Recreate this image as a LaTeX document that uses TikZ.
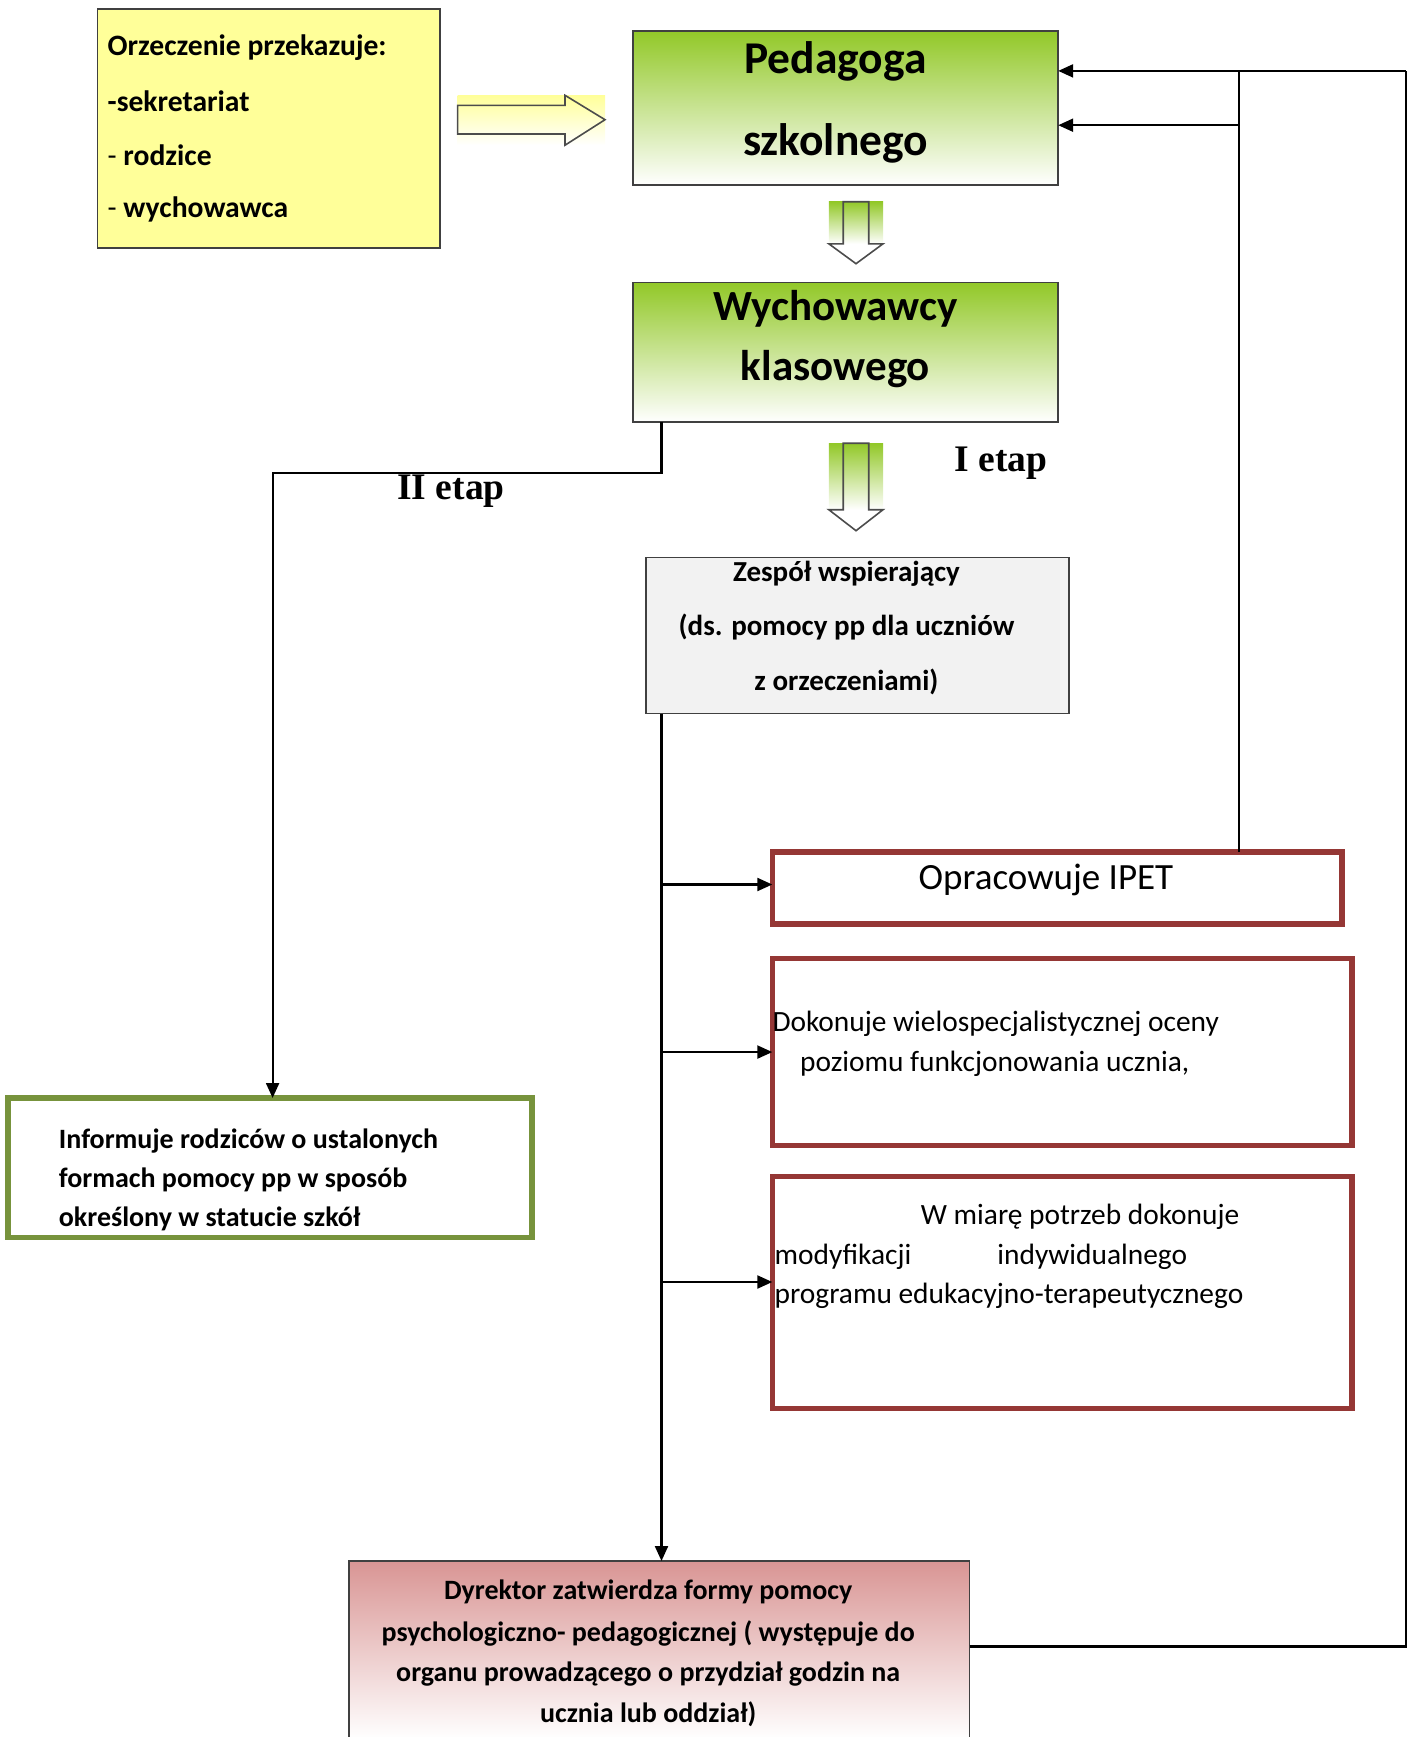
\documentclass[tikz,border=0pt]{standalone}
\usepackage{fontspec}
\setmainfont{Carlito}
\newfontfamily\serifb{Liberation Serif}
\usetikzlibrary{arrows.meta}
\definecolor{ygreen}{RGB}{146,200,40}
\definecolor{pinkc}{RGB}{217,149,148}
\definecolor{darkred}{RGB}{149,55,53}
\definecolor{olivec}{RGB}{119,147,60}
\definecolor{lyellow}{RGB}{255,255,153}
\definecolor{lgray}{RGB}{242,242,242}
\tikzset{
  conn/.style={line width=2.2pt, draw=black},
  arr/.style={conn, -{Triangle[length=15pt,width=13pt]}},
  thinbox/.style={draw=black!75, line width=1.6pt, inner sep=0pt, outer sep=0pt, anchor=north west},
  redbox/.style={draw=darkred, line width=5.5pt, inner sep=0pt, outer sep=0pt, anchor=north west},
  olivebox/.style={draw=olivec, line width=5.5pt, inner sep=0pt, outer sep=0pt, anchor=north west},
  bt/.style={font=\fontsize{28}{34}\selectfont\bfseries, inner sep=0pt},
  zt/.style={font=\fontsize{29}{34}\selectfont\bfseries, inner sep=0pt},
  yt/.style={font=\fontsize{29.6}{34}\selectfont\bfseries, inner sep=0pt, anchor=west},
  rt/.style={font=\fontsize{29.4}{34}\selectfont, inner sep=0pt, anchor=west},
  bigt/.style={font=\fontsize{45.5}{50}\selectfont\bfseries, inner sep=0pt},
  bigw/.style={font=\fontsize{43}{48}\selectfont\bfseries, inner sep=0pt},
  etapt/.style={font=\fontsize{37.5}{40}\selectfont\serifb\bfseries, inner sep=0pt},
  blockarrow/.style={draw=black!70, line width=1.6pt},
}
\begin{document}
\begin{tikzpicture}[x=1pt,y=-1pt]
\useasboundingbox (0,0) rectangle (1415,1737);

% boxes
\node[thinbox, fill=lyellow, minimum width=342.5pt, minimum height=239.3pt] (yel) at (97.5,8.9) {};
\node[thinbox, top color=ygreen, bottom color=white, minimum width=425.5pt, minimum height=154pt] (ped) at (632.7,31) {};
\node[thinbox, top color=ygreen, bottom color=white, minimum width=425.5pt, minimum height=139.7pt] (wych) at (632.7,282.5) {};
\node[thinbox, fill=lgray, minimum width=423.2pt, minimum height=156.3pt] (zesp) at (646,557.3) {};
\node[redbox, minimum width=569.5pt, minimum height=72pt] (opr) at (772.3,852) {};
\node[redbox, minimum width=579.5pt, minimum height=187.3pt] (dok) at (772.3,958.4) {};
\node[redbox, minimum width=579.5pt, minimum height=231.6pt] (wm) at (772.3,1176.7) {};
\node[olivebox, minimum width=524pt, minimum height=139.6pt] (inf) at (7.8,1098) {};
\node[thinbox, top color=pinkc, bottom color=white, minimum width=620.5pt, minimum height=178pt] (dyr) at (349,1561) {};

% block arrows
\shade[top color=lyellow, bottom color=white] (457.6,95.3) rectangle (605,145.2);
\draw[blockarrow] (457.6,105.3) -- (565,105.3) -- (565,95.3) -- (605,119.7) -- (565,145.2) -- (565,134) -- (457.6,134) -- cycle;

\shade[top color=ygreen, bottom color=white] (828.8,201.7) rectangle (883,243.8);
\draw[blockarrow] (843.2,201.7) -- (868.7,201.7) -- (868.7,243.8) -- (883,243.8) -- (856,263.7) -- (828.8,243.8) -- (843.2,243.8) -- cycle;

\shade[top color=ygreen, bottom color=white] (828.8,443.2) rectangle (883,509.7);
\draw[blockarrow] (843.2,443.2) -- (868.7,443.2) -- (868.7,509.7) -- (883,509.7) -- (856,530.7) -- (828.8,509.7) -- (843.2,509.7) -- cycle;

% texts
\node[yt] (y1) at (107.5,47.6) {Orzeczenie przekazuje:};
\node[yt] (y2) at (107.5,100.8) {-sekretariat};
\node[yt] (y3) at (107.5,155) {{\mdseries -} rodzice};
\node[yt] (y4) at (107.5,209) {{\mdseries -} wychowawca};

\node[bigt] (p1) at (835.5,60.9) {Pedagoga};
\node[bigt] (p2) at (835.5,142.9) {szkolnego};
\node[bigw] (w1) at (835.5,309.2) {Wychowawcy};
\node[bigw] (w2) at (835.5,369) {klasowego};

\node[etapt] (e1) at (1001,463.1) {I etap};
\node[etapt] (e2) at (451,490.8) {II etap};

\node[zt] (z1) at (846.5,574) {Zespół wspierający};
\node[zt] (z2) at (846.5,627.2) {(ds. pomocy pp dla uczniów};
\node[zt] (z3) at (846.5,681.5) {z orzeczeniami)};

\node[font=\fontsize{37}{40}\selectfont, inner sep=0pt] (o1) at (1046,879.7) {Opracowuje IPET};

\node[rt] (d1) at (772.3,1023.8) {Dokonuje wielospecjalistycznej oceny};
\node[rt] (d2) at (800,1063.7) {poziomu funkcjonowania ucznia,};

\node[rt] (m1) at (920.7,1216.6) {W miarę potrzeb dokonuje};
\node[rt] (m2) at (774.5,1256.5) {modyfikacji};
\node[rt] (m3) at (997.2,1256.5) {indywidualnego};
\node[rt] (m4) at (774.5,1296.2) {programu edukacyjno-terapeutycznego};

\node[bt, anchor=west] (i1) at (58.7,1141.2) {Informuje rodziców o ustalonych};
\node[bt, anchor=west] (i2) at (58.7,1180.2) {formach pomocy pp w sposób};
\node[bt, anchor=west] (i3) at (58.7,1218.8) {określony w statucie szkół};

\node[bt] (r1) at (648.2,1592.2) {Dyrektor zatwierdza formy pomocy};
\node[bt] (r2) at (648.2,1633.2) {psychologiczno- pedagogicznej ( występuje do};
\node[bt] (r3) at (648.2,1674.2) {organu prowadzącego o przydział godzin na};
\node[bt] (r4) at (648.2,1713.9) {ucznia lub oddział)};

% connectors
\coordinate (ws) at ([xshift=28.8pt]wych.south west);
\draw[arr] (ws) -- ++(0,50.9) -| ([xshift=2.8pt]inf.north);

\coordinate (tr) at ([xshift=15.5pt]zesp.south west);
\draw[arr] (tr) -- (tr |- dyr.north);
\coordinate (oprw) at ([yshift=3.5pt]opr.west);
\draw[arr] (tr |- oprw) -- (oprw);
\draw[arr] (tr |- dok.west) -- (dok.west);
\coordinate (wmw) at ([yshift=10.5pt]wm.west);
\draw[arr] (tr |- wmw) -- (wmw);

\coordinate (fb) at (1406,70.9);
\coordinate (pe1) at ([yshift=37.1pt]ped.east);
\coordinate (pe2) at ([yshift=-17.2pt]ped.east);
\coordinate (jn) at (1238.8,70.9);
\coordinate (dyre) at ([yshift=3.5pt]dyr.east);
\draw[conn] (dyre) -| (fb);
\draw[arr] (fb) -- (pe1);
\draw[conn] (jn |- opr.north) -- (jn);
\draw[arr] (jn |- pe2) -- (pe2);
\end{tikzpicture}
\end{document}
